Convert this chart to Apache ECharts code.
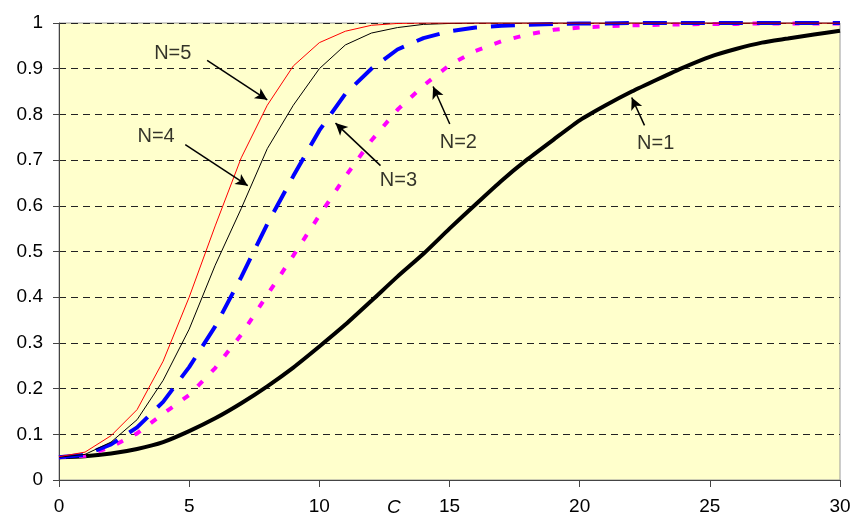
<!doctype html>
<html>
<head>
<meta charset="utf-8">
<title>N curves</title>
<script src="https://cdn.jsdelivr.net/npm/echarts@6/dist/echarts.min.js"></script>
<style>
html, body { margin: 0; padding: 0; background: #fff; }
#main { width: 858px; height: 525px; }
</style>
</head>
<body>
<div id="main"></div>
<script>
// C values 0..30
var cValues = [];
for (var i = 0; i <= 30; i++) cValues.push(i);

var n1 = [0.05, 0.052, 0.058, 0.068, 0.083, 0.107, 0.135, 0.168, 0.205, 0.246, 0.292, 0.34, 0.392, 0.445, 0.495, 0.55,
  0.603, 0.655, 0.702, 0.745, 0.787, 0.82, 0.85, 0.877, 0.903, 0.926, 0.943, 0.957, 0.966, 0.975, 0.983];
var n2 = [0.05, 0.053, 0.072, 0.102, 0.145, 0.186, 0.245, 0.318, 0.405, 0.491, 0.579, 0.664, 0.743, 0.81, 0.863, 0.908,
  0.939, 0.96, 0.975, 0.985, 0.99, 0.993, 0.995, 0.996, 0.997, 0.998, 0.998, 0.999, 0.999, 0.999, 0.999];
var n3 = [0.05, 0.055, 0.078, 0.115, 0.171, 0.247, 0.336, 0.444, 0.56, 0.665, 0.765, 0.845, 0.9, 0.942, 0.967, 0.982,
  0.99, 0.994, 0.996, 0.998, 0.999, 0.999, 1, 1, 1, 1, 1, 1, 1, 1, 1];
var n4 = [0.05, 0.056, 0.083, 0.132, 0.218, 0.33, 0.47, 0.594, 0.725, 0.82, 0.9, 0.952, 0.978, 0.99, 0.997, 0.999,
  1, 1, 1, 1, 1, 1, 1, 1, 1, 1, 1, 1, 1, 1, 1];
var n5 = [0.051, 0.061, 0.097, 0.154, 0.26, 0.4, 0.556, 0.705, 0.82, 0.906, 0.957, 0.982, 0.995, 0.999, 1, 1,
  1, 1, 1, 1, 1, 1, 1, 1, 1, 1, 1, 1, 1, 1, 1];

var xTicks = [0, 5, 10, 15, 20, 25, 30];
var yTicks = [0, 0.1, 0.2, 0.3, 0.4, 0.5, 0.6, 0.7, 0.8, 0.9, 1];

// labels: [c, value, text]  and arrows: [from c, from v, to c, to v]
var labelNames = ['N=5', 'N=4', 'N=3', 'N=2', 'N=1'];
var labelPos = [[4.37, 0.933], [3.73, 0.751], [13.04, 0.655], [15.34, 0.739], [22.92, 0.736]];
var arrowFrom = [[5.69, 0.918], [4.85, 0.734], [12.35, 0.688], [15.01, 0.779], [22.49, 0.776]];
var arrowTo = [[8.0, 0.832], [7.25, 0.644], [10.62, 0.781], [14.37, 0.861], [22.0, 0.837]];

function pairs(ys) {
  return cValues.map(function (c, i) { return [c, ys[i]]; });
}

var font = 'Liberation Sans, Arial, sans-serif';
var myChart = echarts.init(document.getElementById('main'), null, { renderer: 'canvas' });

var option = {
  animation: false,
  backgroundColor: '#ffffff',
  grid: {
    left: 59, right: 18, top: 23, bottom: 45,
    show: true,
    backgroundColor: '#FFFFCC',
    borderColor: '#9a9a9a',
    borderWidth: 1,
    outerBoundsMode: 'none'
  },
  xAxis: {
    type: 'value',
    min: 0, max: 30, interval: 5,
    axisLine: { show: true, lineStyle: { color: '#444', width: 1 } },
    axisTick: { show: true, inside: false, length: 7, lineStyle: { color: '#444' } },
    axisLabel: { margin: 17, fontSize: 19, color: '#000', fontFamily: font,
      showMinLabel: true, showMaxLabel: true,
      formatter: function (v) { return xTicks.indexOf(v) >= 0 ? String(v) : ''; } },
    splitLine: { show: false }
  },
  yAxis: {
    type: 'value',
    min: 0, max: 1, interval: 0.1,
    axisLine: { show: true, lineStyle: { color: '#444', width: 1 } },
    axisTick: { show: true, inside: false, length: 6, lineStyle: { color: '#444' } },
    axisLabel: { margin: 16, fontSize: 19, color: '#000', fontFamily: font,
      showMinLabel: true, showMaxLabel: true,
      formatter: function (v) {
        var r = Math.round(v * 10) / 10;
        return yTicks.indexOf(r) >= 0 ? String(r) : '';
      } },
    splitLine: { show: true, lineStyle: { color: '#222', width: 1, type: [7, 5] } }
  },
  graphic: [{
    type: 'text',
    left: 387, top: 498,
    style: { text: 'C', fontSize: 19, fontStyle: 'italic', fontFamily: font, fill: '#000' }
  }],
  series: [
    { name: 'N=1', type: 'line', data: pairs(n1), symbol: 'none', smooth: 0.2,
      lineStyle: { color: '#000', width: 4 }, z: 3 },
    { name: 'N=2', type: 'line', data: pairs(n2), symbol: 'none',
      lineStyle: { color: '#FF00FF', width: 4, type: [7, 13] }, z: 3 },
    { name: 'N=3', type: 'line', data: pairs(n3), symbol: 'none',
      lineStyle: { color: '#0000FF', width: 4, type: [24, 14] }, z: 3 },
    { name: 'N=4', type: 'line', data: pairs(n4), symbol: 'none',
      lineStyle: { color: '#000', width: 1 }, z: 4 },
    { name: 'N=5', type: 'line', data: pairs(n5), symbol: 'none',
      lineStyle: { color: '#FF0000', width: 1 }, z: 4 },
    {
      name: 'arrows', type: 'line', data: [], symbol: 'none', z: 5,
      markLine: {
        silent: true,
        animation: false,
        symbol: ['none', 'arrow'],
        symbolSize: [9, 12],
        label: { show: false },
        emphasis: { disabled: true },
        lineStyle: { color: '#000', width: 1.5, type: 'solid' },
        data: arrowFrom.map(function (f, i) {
          return [{ coord: f }, { coord: arrowTo[i] }];
        })
      }
    },
    {
      name: 'labels', type: 'scatter', symbolSize: 0, z: 6, silent: true, clip: false,
      data: labelPos.map(function (p, i) { return [p[0], p[1], labelNames[i]]; }),
      label: {
        show: true, position: 'inside', fontSize: 20, color: '#000', fontFamily: font,
        formatter: function (p) { return p.value[2]; }
      }
    }
  ]
};

myChart.setOption(option);
</script>
</body>
</html>
